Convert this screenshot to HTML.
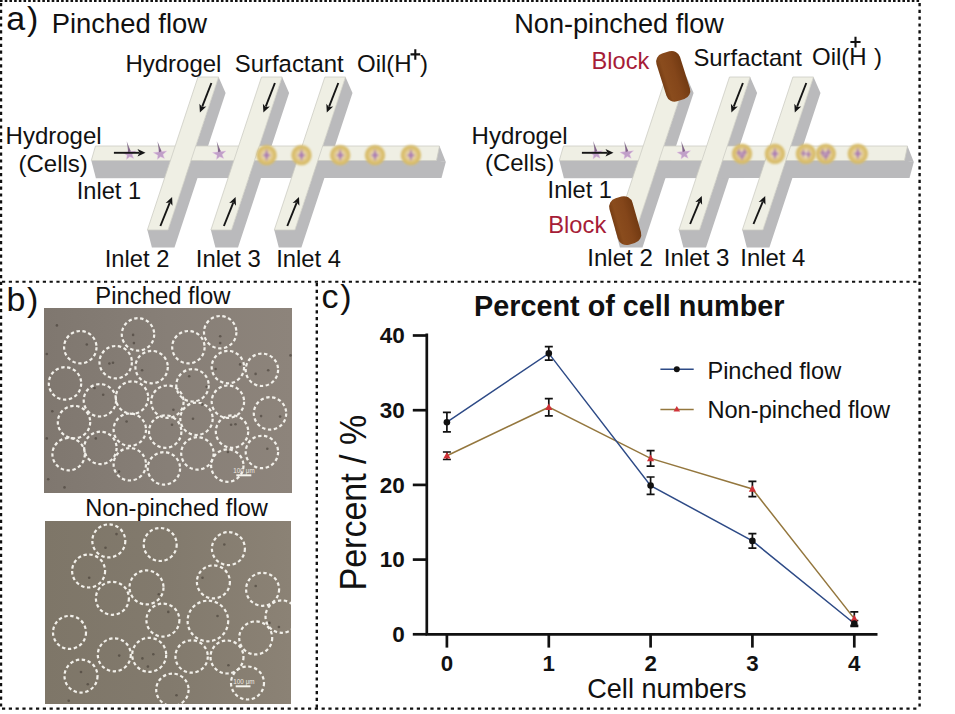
<!DOCTYPE html><html><head><meta charset="utf-8"><style>html,body{margin:0;padding:0;background:#fff;width:955px;height:714px;overflow:hidden}svg{display:block}</style></head><body><svg width="955" height="714" viewBox="0 0 955 714" font-family="'Liberation Sans', sans-serif">
<defs>
<radialGradient id="dg" cx="0.5" cy="0.5" r="0.5">
<stop offset="0" stop-color="#f0dedd"/>
<stop offset="0.3" stop-color="#ead9b4"/>
<stop offset="0.6" stop-color="#dfc57e"/>
<stop offset="0.88" stop-color="#d5b860"/>
<stop offset="1" stop-color="#dac27a" stop-opacity="0.55"/>
</radialGradient>
<filter id="soft" x="-20%" y="-20%" width="140%" height="140%"><feGaussianBlur stdDeviation="0.8"/></filter>
<linearGradient id="bg" x1="0" y1="0" x2="1" y2="0">
<stop offset="0" stop-color="#773e14"/>
<stop offset="0.2" stop-color="#8a4c1d"/>
<stop offset="0.6" stop-color="#84461a"/>
<stop offset="1" stop-color="#723a12"/>
</linearGradient>
<linearGradient id="im1" x1="0" y1="0" x2="1" y2="0">
<stop offset="0" stop-color="#7f776f"/><stop offset="0.5" stop-color="#877f77"/><stop offset="1" stop-color="#8d847b"/>
</linearGradient>
<linearGradient id="im2" x1="0" y1="0" x2="1" y2="0">
<stop offset="0" stop-color="#7e7668"/><stop offset="0.5" stop-color="#827a6d"/><stop offset="1" stop-color="#8b8275"/>
</linearGradient>
</defs>
<rect width="955" height="714" fill="#fff"/>
<line x1="0" y1="1" x2="920" y2="1" stroke="#111" fill="none" stroke-width="2.1" stroke-dasharray="2.6 2.1"/>
<line x1="1" y1="3" x2="1" y2="709" stroke="#111" fill="none" stroke-width="2.4" stroke-dasharray="3.2 3.6"/>
<line x1="919.6" y1="3" x2="919.6" y2="709" stroke="#111" fill="none" stroke-width="2.4" stroke-dasharray="3.2 3.6"/>
<line x1="2" y1="281.7" x2="920" y2="281.7" stroke="#111" fill="none" stroke-width="2.1" stroke-dasharray="3.2 3.6"/>
<line x1="316.8" y1="283" x2="316.8" y2="709" stroke="#111" fill="none" stroke-width="2.4" stroke-dasharray="3.2 3.6"/>
<line x1="2" y1="708.6" x2="920" y2="708.6" stroke="#111" fill="none" stroke-width="2.1" stroke-dasharray="3.2 3.6"/>
<text x="6.3" y="29.5" font-size="34" font-weight="400" fill="#111" text-anchor="start" >a</text>
<text x="27" y="29.5" font-size="34" font-weight="400" fill="#111" text-anchor="start" >)</text>
<text x="51.7" y="33.1" font-size="27.4" font-weight="400" fill="#111" text-anchor="start" >Pinched flow</text>
<polygon points="218.6,77.0 225.6,93.0 174.5,247.5 151.9,247.5 147.4,230.0 168.0,230.0" fill="#bababc" />
<polygon points="282.1,77.0 289.1,93.0 238.0,247.5 215.4,247.5 210.9,230.0 231.5,230.0" fill="#bababc" />
<polygon points="345.5,77.0 352.5,93.0 301.4,247.5 278.8,247.5 274.3,230.0 294.9,230.0" fill="#bababc" />
<polygon points="91.3,160.5 437.0,160.5 445.8,162.0 441.5,178.0 95.9,178.2" fill="#bababc" />
<polygon points="95.5,146.0 439.5,146.0 445.8,162.0 436.5,161.0" fill="#bababc" />
<polygon points="95.5,146.0 439.5,146.0 436.5,160.5 91.3,160.5" fill="#efefe4" stroke="#cdcdc4" stroke-width="0.8"/>
<polygon points="198.0,77.0 218.6,77.0 168.0,230.0 147.4,230.0" fill="#efefe4" stroke="#cdcdc4" stroke-width="0.8"/>
<polygon points="261.5,77.0 282.1,77.0 231.5,230.0 210.9,230.0" fill="#efefe4" stroke="#cdcdc4" stroke-width="0.8"/>
<polygon points="324.9,77.0 345.5,77.0 294.9,230.0 274.3,230.0" fill="#efefe4" stroke="#cdcdc4" stroke-width="0.8"/>
<polygon points="128.7,147.5 130.9,151.6 136.0,151.0 132.2,154.5 133.7,158.5 129.8,156.8 126.5,159.4 127.0,155.2 122.4,152.6 127.6,151.9" fill="#ad80bd" fill-opacity="0.72" stroke="#e8c8e8" stroke-opacity="0.5" stroke-width="0.8"/>
<path d="M126.7,141.3 L130.7,151.3 L128.3,152.3Z" fill="#6f5578" fill-opacity="0.8"/>
<polygon points="159.5,147.5 161.7,151.6 166.8,151.0 163.0,154.5 164.5,158.5 160.6,156.8 157.3,159.4 157.8,155.2 153.2,152.6 158.4,151.9" fill="#ad80bd" fill-opacity="0.72" stroke="#e8c8e8" stroke-opacity="0.5" stroke-width="0.8"/>
<path d="M157.5,141.3 L161.5,151.3 L159.1,152.3Z" fill="#6f5578" fill-opacity="0.8"/>
<polygon points="218.7,147.5 220.9,151.6 226.0,151.0 222.2,154.5 223.7,158.5 219.8,156.8 216.5,159.4 217.0,155.2 212.4,152.6 217.6,151.9" fill="#ad80bd" fill-opacity="0.72" stroke="#e8c8e8" stroke-opacity="0.5" stroke-width="0.8"/>
<path d="M216.7,141.3 L220.7,151.3 L218.3,152.3Z" fill="#6f5578" fill-opacity="0.8"/>
<g filter="url(#soft)">
<circle cx="266.6" cy="155.2" r="10.4" fill="url(#dg)"/>
<path d="M266.6,148.7 L268.2,153.7 L270.8,155.2 L268.2,156.7 L266.6,161.2 L265.0,156.7 L262.4,155.2 L265.0,153.7Z" fill="#9a64aa" fill-opacity="0.8"/>
</g>
<g filter="url(#soft)">
<circle cx="301.5" cy="155.2" r="10.4" fill="url(#dg)"/>
<path d="M301.5,148.7 L303.1,153.7 L305.7,155.2 L303.1,156.7 L301.5,161.2 L299.9,156.7 L297.3,155.2 L299.9,153.7Z" fill="#9a64aa" fill-opacity="0.8"/>
</g>
<g filter="url(#soft)">
<circle cx="340.2" cy="155.2" r="10.4" fill="url(#dg)"/>
<path d="M340.2,148.7 L341.8,153.7 L344.4,155.2 L341.8,156.7 L340.2,161.2 L338.6,156.7 L336.0,155.2 L338.6,153.7Z" fill="#9a64aa" fill-opacity="0.8"/>
</g>
<g filter="url(#soft)">
<circle cx="375" cy="155.2" r="10.4" fill="url(#dg)"/>
<path d="M375.0,148.7 L376.6,153.7 L379.2,155.2 L376.6,156.7 L375.0,161.2 L373.4,156.7 L370.8,155.2 L373.4,153.7Z" fill="#9a64aa" fill-opacity="0.8"/>
</g>
<g filter="url(#soft)">
<circle cx="410.9" cy="155.2" r="10.4" fill="url(#dg)"/>
<path d="M410.9,148.7 L412.5,153.7 L415.1,155.2 L412.5,156.7 L410.9,161.2 L409.3,156.7 L406.7,155.2 L409.3,153.7Z" fill="#9a64aa" fill-opacity="0.8"/>
</g>
<line x1="113.9" y1="152.8" x2="139.3" y2="152.8" stroke="#151515" stroke-width="1.9"/>
<polygon points="145.5,152.8 137.5,156.5 139.5,152.8 137.5,149.1" fill="#151515" />
<line x1="211.4" y1="83.0" x2="202.2" y2="106.7" stroke="#151515" stroke-width="1.9"/>
<polygon points="199.9,112.5 199.4,103.7 202.1,106.9 206.3,106.4" fill="#151515" />
<line x1="160.4" y1="226.0" x2="169.8" y2="202.7" stroke="#151515" stroke-width="1.9"/>
<polygon points="172.1,197.0 172.5,205.8 169.9,202.6 165.7,203.0" fill="#151515" />
<line x1="274.9" y1="83.0" x2="265.7" y2="106.7" stroke="#151515" stroke-width="1.9"/>
<polygon points="263.4,112.5 262.9,103.7 265.6,106.9 269.8,106.4" fill="#151515" />
<line x1="223.9" y1="226.0" x2="233.3" y2="202.7" stroke="#151515" stroke-width="1.9"/>
<polygon points="235.6,197.0 236.0,205.8 233.4,202.6 229.2,203.0" fill="#151515" />
<line x1="338.3" y1="83.0" x2="329.1" y2="106.7" stroke="#151515" stroke-width="1.9"/>
<polygon points="326.8,112.5 326.3,103.7 329.0,106.9 333.2,106.4" fill="#151515" />
<line x1="287.3" y1="226.0" x2="296.7" y2="202.7" stroke="#151515" stroke-width="1.9"/>
<polygon points="299.0,197.0 299.4,205.8 296.8,202.6 292.6,203.0" fill="#151515" />
<text x="125.4" y="72.1" font-size="24" font-weight="400" fill="#111" text-anchor="start" >Hydrogel</text>
<text x="234.8" y="72.1" font-size="23.9" font-weight="400" fill="#111" text-anchor="start" >Surfactant</text>
<text x="357" y="72" font-size="24" font-weight="400" fill="#111" text-anchor="start" >Oil(H</text>
<path d="M410.5,54.4 H420.2 M415.3,49.2 V59.8" stroke="#111" stroke-width="2.1"/>
<text x="420" y="72" font-size="24" font-weight="400" fill="#111" text-anchor="start" >)</text>
<text x="5.6" y="143.5" font-size="24" font-weight="400" fill="#111" text-anchor="start" >Hydrogel</text>
<text x="18.5" y="171.5" font-size="24" font-weight="400" fill="#111" text-anchor="start" >(Cells)</text>
<text x="76.8" y="198.5" font-size="23.6" font-weight="400" fill="#111" text-anchor="start" >Inlet 1</text>
<text x="104.7" y="266.9" font-size="23.8" font-weight="400" fill="#111" text-anchor="start" >Inlet 2</text>
<text x="195.8" y="266.9" font-size="23.9" font-weight="400" fill="#111" text-anchor="start" >Inlet 3</text>
<text x="276.2" y="266.9" font-size="23.8" font-weight="400" fill="#111" text-anchor="start" >Inlet 4</text>
<text x="514.2" y="32.8" font-size="27.15" font-weight="400" fill="#111" text-anchor="start" >Non-pinched flow</text>
<polygon points="686.6,77.0 693.6,93.0 642.5,247.5 619.9,247.5 615.4,230.0 636.0,230.0" fill="#bababc" />
<polygon points="750.1,77.0 757.1,93.0 706.0,247.5 683.4,247.5 678.9,230.0 699.5,230.0" fill="#bababc" />
<polygon points="813.5,77.0 820.5,93.0 769.4,247.5 746.8,247.5 742.3,230.0 762.9,230.0" fill="#bababc" />
<polygon points="559.3,160.5 905.0,160.5 913.8,162.0 909.5,178.0 563.9,178.2" fill="#bababc" />
<polygon points="563.5,146.0 907.5,146.0 913.8,162.0 904.5,161.0" fill="#bababc" />
<polygon points="563.5,146.0 907.5,146.0 904.5,160.5 559.3,160.5" fill="#efefe4" stroke="#cdcdc4" stroke-width="0.8"/>
<polygon points="666.0,77.0 686.6,77.0 636.0,230.0 615.4,230.0" fill="#efefe4" stroke="#cdcdc4" stroke-width="0.8"/>
<polygon points="729.5,77.0 750.1,77.0 699.5,230.0 678.9,230.0" fill="#efefe4" stroke="#cdcdc4" stroke-width="0.8"/>
<polygon points="792.9,77.0 813.5,77.0 762.9,230.0 742.3,230.0" fill="#efefe4" stroke="#cdcdc4" stroke-width="0.8"/>
<polygon points="595.2,147.2 597.4,151.3 602.5,150.7 598.7,154.2 600.2,158.2 596.3,156.5 593.0,159.1 593.5,154.9 588.9,152.3 594.1,151.6" fill="#ad80bd" fill-opacity="0.72" stroke="#e8c8e8" stroke-opacity="0.5" stroke-width="0.8"/>
<path d="M593.2,141.0 L597.2,151.0 L594.8,152.0Z" fill="#6f5578" fill-opacity="0.8"/>
<polygon points="626.2,147.2 628.4,151.3 633.5,150.7 629.7,154.2 631.2,158.2 627.3,156.5 624.0,159.1 624.5,154.9 619.9,152.3 625.1,151.6" fill="#ad80bd" fill-opacity="0.72" stroke="#e8c8e8" stroke-opacity="0.5" stroke-width="0.8"/>
<path d="M624.2,141.0 L628.2,151.0 L625.8,152.0Z" fill="#6f5578" fill-opacity="0.8"/>
<polygon points="683.2,147.2 685.4,151.3 690.5,150.7 686.7,154.2 688.2,158.2 684.3,156.5 681.0,159.1 681.5,154.9 676.9,152.3 682.1,151.6" fill="#ad80bd" fill-opacity="0.72" stroke="#e8c8e8" stroke-opacity="0.5" stroke-width="0.8"/>
<path d="M681.2,141.0 L685.2,151.0 L682.8,152.0Z" fill="#6f5578" fill-opacity="0.8"/>
<g filter="url(#soft)">
<circle cx="742" cy="153.8" r="10.4" fill="url(#dg)"/>
<path d="M739.0,147.9 L740.2,151.7 L742.1,152.8 L740.2,153.9 L739.0,157.3 L737.8,153.9 L735.9,152.8 L737.8,151.7Z" fill="#9a64aa" fill-opacity="0.8"/>
<path d="M744.5,147.4 L745.7,151.2 L747.6,152.3 L745.7,153.4 L744.5,156.8 L743.3,153.4 L741.4,152.3 L743.3,151.2Z" fill="#9a64aa" fill-opacity="0.8"/>
<path d="M742.0,151.4 L743.2,155.2 L745.1,156.3 L743.2,157.4 L742.0,160.8 L740.8,157.4 L738.9,156.3 L740.8,155.2Z" fill="#9a64aa" fill-opacity="0.8"/>
</g>
<g filter="url(#soft)">
<circle cx="774.9" cy="153.8" r="10.4" fill="url(#dg)"/>
<path d="M774.9,147.3 L776.5,152.3 L779.1,153.8 L776.5,155.3 L774.9,159.8 L773.3,155.3 L770.7,153.8 L773.3,152.3Z" fill="#9a64aa" fill-opacity="0.8"/>
</g>
<g filter="url(#soft)">
<circle cx="805.9" cy="153.8" r="10.4" fill="url(#dg)"/>
<path d="M803.4,148.4 L804.6,152.2 L806.5,153.3 L804.6,154.4 L803.4,157.8 L802.2,154.4 L800.2,153.3 L802.2,152.2Z" fill="#9a64aa" fill-opacity="0.8"/>
<path d="M808.4,149.4 L809.6,153.2 L811.5,154.3 L809.6,155.4 L808.4,158.8 L807.2,155.4 L805.2,154.3 L807.2,153.2Z" fill="#9a64aa" fill-opacity="0.8"/>
</g>
<g filter="url(#soft)">
<circle cx="825.8" cy="153.8" r="10.4" fill="url(#dg)"/>
<path d="M822.8,147.9 L824.0,151.7 L825.9,152.8 L824.0,153.9 L822.8,157.3 L821.6,153.9 L819.6,152.8 L821.6,151.7Z" fill="#9a64aa" fill-opacity="0.8"/>
<path d="M828.3,147.4 L829.5,151.2 L831.4,152.3 L829.5,153.4 L828.3,156.8 L827.1,153.4 L825.1,152.3 L827.1,151.2Z" fill="#9a64aa" fill-opacity="0.8"/>
<path d="M825.8,151.4 L827.0,155.2 L828.9,156.3 L827.0,157.4 L825.8,160.8 L824.6,157.4 L822.6,156.3 L824.6,155.2Z" fill="#9a64aa" fill-opacity="0.8"/>
</g>
<g filter="url(#soft)">
<circle cx="857.8" cy="153.8" r="10.4" fill="url(#dg)"/>
<path d="M857.8,147.3 L859.4,152.3 L862.0,153.8 L859.4,155.3 L857.8,159.8 L856.2,155.3 L853.6,153.8 L856.2,152.3Z" fill="#9a64aa" fill-opacity="0.8"/>
</g>
<line x1="581.9" y1="152.8" x2="607.3" y2="152.8" stroke="#151515" stroke-width="1.9"/>
<polygon points="613.5,152.8 605.5,156.5 607.5,152.8 605.5,149.1" fill="#151515" />
<line x1="742.9" y1="83.0" x2="733.7" y2="106.7" stroke="#151515" stroke-width="1.9"/>
<polygon points="731.4,112.5 730.9,103.7 733.6,106.9 737.8,106.4" fill="#151515" />
<line x1="690.1" y1="224.0" x2="699.4" y2="201.7" stroke="#151515" stroke-width="1.9"/>
<polygon points="701.8,196.0 702.1,204.8 699.5,201.5 695.3,202.0" fill="#151515" />
<line x1="806.3" y1="83.0" x2="797.1" y2="106.7" stroke="#151515" stroke-width="1.9"/>
<polygon points="794.8,112.5 794.3,103.7 797.0,106.9 801.2,106.4" fill="#151515" />
<line x1="753.5" y1="224.0" x2="762.8" y2="201.7" stroke="#151515" stroke-width="1.9"/>
<polygon points="765.2,196.0 765.5,204.8 762.9,201.5 758.7,202.0" fill="#151515" />
<g transform="translate(673.2,76.3) rotate(-17.5)"><rect x="-12.3" y="-25" width="24.6" height="50" rx="8.5" fill="url(#bg)"/></g>
<g transform="translate(625.2,220.6) rotate(-16)"><rect x="-12" y="-24.2" width="24" height="48.4" rx="9" fill="url(#bg)"/></g>
<text x="591.6" y="69.1" font-size="23.6" font-weight="400" fill="#a61c37" text-anchor="start" >Block</text>
<text x="693.5" y="66.4" font-size="23.8" font-weight="400" fill="#111" text-anchor="start" >Surfactant</text>
<text x="812" y="64.5" font-size="24" font-weight="400" fill="#111" text-anchor="start" >Oil(H</text>
<path d="M850.4,42 H860.6 M855.5,36.8 V47.4" stroke="#111" stroke-width="2.1"/>
<text x="874" y="64.5" font-size="24" font-weight="400" fill="#111" text-anchor="start" >)</text>
<text x="471.6" y="144.1" font-size="24" font-weight="400" fill="#111" text-anchor="start" >Hydrogel</text>
<text x="484.9" y="170.5" font-size="24" font-weight="400" fill="#111" text-anchor="start" >(Cells)</text>
<text x="547.6" y="198" font-size="23.6" font-weight="400" fill="#111" text-anchor="start" >Inlet 1</text>
<text x="548.3" y="232.8" font-size="23.7" font-weight="400" fill="#a61c37" text-anchor="start" >Block</text>
<text x="587.2" y="265.5" font-size="24.1" font-weight="400" fill="#111" text-anchor="start" >Inlet 2</text>
<text x="663.8" y="265.5" font-size="24.1" font-weight="400" fill="#111" text-anchor="start" >Inlet 3</text>
<text x="740.3" y="265.5" font-size="23.9" font-weight="400" fill="#111" text-anchor="start" >Inlet 4</text>
<text x="6.5" y="310.8" font-size="34" font-weight="400" fill="#111" text-anchor="start" >b</text>
<text x="27.1" y="310.8" font-size="34" font-weight="400" fill="#111" text-anchor="start" >)</text>
<text x="95.3" y="304.3" font-size="23.85" font-weight="400" fill="#111" text-anchor="start" >Pinched flow</text>
<rect x="44" y="308" width="248" height="185" fill="url(#im1)"/>
<circle cx="80.3" cy="347.2" r="16.2" fill="none" stroke="#f2f0ea" stroke-width="2.2" stroke-dasharray="3.4 2.6"/>
<circle cx="138" cy="334.4" r="16.2" fill="none" stroke="#f2f0ea" stroke-width="2.2" stroke-dasharray="3.4 2.6"/>
<circle cx="188.4" cy="347.2" r="16.2" fill="none" stroke="#f2f0ea" stroke-width="2.2" stroke-dasharray="3.4 2.6"/>
<circle cx="220.2" cy="332.2" r="16.2" fill="none" stroke="#f2f0ea" stroke-width="2.2" stroke-dasharray="3.4 2.6"/>
<circle cx="115.7" cy="362.2" r="16.2" fill="none" stroke="#f2f0ea" stroke-width="2.2" stroke-dasharray="3.4 2.6"/>
<circle cx="151.6" cy="367.1" r="16.2" fill="none" stroke="#f2f0ea" stroke-width="2.2" stroke-dasharray="3.4 2.6"/>
<circle cx="227.9" cy="367.1" r="16.2" fill="none" stroke="#f2f0ea" stroke-width="2.2" stroke-dasharray="3.4 2.6"/>
<circle cx="261.9" cy="369.8" r="16.2" fill="none" stroke="#f2f0ea" stroke-width="2.2" stroke-dasharray="3.4 2.6"/>
<circle cx="65" cy="383.4" r="16.2" fill="none" stroke="#f2f0ea" stroke-width="2.2" stroke-dasharray="3.4 2.6"/>
<circle cx="99.9" cy="400.3" r="16.2" fill="none" stroke="#f2f0ea" stroke-width="2.2" stroke-dasharray="3.4 2.6"/>
<circle cx="132" cy="397.6" r="16.2" fill="none" stroke="#f2f0ea" stroke-width="2.2" stroke-dasharray="3.4 2.6"/>
<circle cx="167.4" cy="401.7" r="16.2" fill="none" stroke="#f2f0ea" stroke-width="2.2" stroke-dasharray="3.4 2.6"/>
<circle cx="192.5" cy="385.3" r="16.2" fill="none" stroke="#f2f0ea" stroke-width="2.2" stroke-dasharray="3.4 2.6"/>
<circle cx="227.9" cy="401.7" r="16.2" fill="none" stroke="#f2f0ea" stroke-width="2.2" stroke-dasharray="3.4 2.6"/>
<circle cx="270" cy="413.4" r="16.2" fill="none" stroke="#f2f0ea" stroke-width="2.2" stroke-dasharray="3.4 2.6"/>
<circle cx="74" cy="422.1" r="16.2" fill="none" stroke="#f2f0ea" stroke-width="2.2" stroke-dasharray="3.4 2.6"/>
<circle cx="129.8" cy="429.7" r="16.2" fill="none" stroke="#f2f0ea" stroke-width="2.2" stroke-dasharray="3.4 2.6"/>
<circle cx="165.2" cy="431.6" r="16.2" fill="none" stroke="#f2f0ea" stroke-width="2.2" stroke-dasharray="3.4 2.6"/>
<circle cx="196.5" cy="418.8" r="16.2" fill="none" stroke="#f2f0ea" stroke-width="2.2" stroke-dasharray="3.4 2.6"/>
<circle cx="232" cy="431.6" r="16.2" fill="none" stroke="#f2f0ea" stroke-width="2.2" stroke-dasharray="3.4 2.6"/>
<circle cx="68.6" cy="454.2" r="16.2" fill="none" stroke="#f2f0ea" stroke-width="2.2" stroke-dasharray="3.4 2.6"/>
<circle cx="100.4" cy="447.9" r="16.2" fill="none" stroke="#f2f0ea" stroke-width="2.2" stroke-dasharray="3.4 2.6"/>
<circle cx="129.8" cy="464.3" r="16.2" fill="none" stroke="#f2f0ea" stroke-width="2.2" stroke-dasharray="3.4 2.6"/>
<circle cx="163.9" cy="468.4" r="16.2" fill="none" stroke="#f2f0ea" stroke-width="2.2" stroke-dasharray="3.4 2.6"/>
<circle cx="197.4" cy="453.4" r="16.2" fill="none" stroke="#f2f0ea" stroke-width="2.2" stroke-dasharray="3.4 2.6"/>
<circle cx="261.9" cy="452" r="16.2" fill="none" stroke="#f2f0ea" stroke-width="2.2" stroke-dasharray="3.4 2.6"/>
<circle cx="227.3" cy="465.6" r="16.2" fill="none" stroke="#f2f0ea" stroke-width="2.2" stroke-dasharray="3.4 2.6"/>
<circle cx="56.9" cy="325.4" r="1.3" fill="#3e362f" fill-opacity="0.55"/>
<circle cx="46.8" cy="354.0" r="1.3" fill="#3e362f" fill-opacity="0.55"/>
<circle cx="86.8" cy="344.5" r="1.3" fill="#3e362f" fill-opacity="0.55"/>
<circle cx="133.1" cy="334.9" r="1.3" fill="#3e362f" fill-opacity="0.55"/>
<circle cx="133.9" cy="343.1" r="1.3" fill="#3e362f" fill-opacity="0.55"/>
<circle cx="109.4" cy="363.5" r="1.3" fill="#3e362f" fill-opacity="0.55"/>
<circle cx="113.0" cy="362.7" r="1.3" fill="#3e362f" fill-opacity="0.55"/>
<circle cx="142.1" cy="370.3" r="1.3" fill="#3e362f" fill-opacity="0.55"/>
<circle cx="94.5" cy="388.0" r="1.3" fill="#3e362f" fill-opacity="0.55"/>
<circle cx="103.2" cy="394.8" r="1.3" fill="#3e362f" fill-opacity="0.55"/>
<circle cx="206.6" cy="386.7" r="1.3" fill="#3e362f" fill-opacity="0.55"/>
<circle cx="189.2" cy="376.3" r="1.3" fill="#3e362f" fill-opacity="0.55"/>
<circle cx="220.2" cy="336.3" r="1.3" fill="#3e362f" fill-opacity="0.55"/>
<circle cx="220.2" cy="343.1" r="1.3" fill="#3e362f" fill-opacity="0.55"/>
<circle cx="240.1" cy="364.4" r="1.3" fill="#3e362f" fill-opacity="0.55"/>
<circle cx="268.2" cy="370.3" r="1.3" fill="#3e362f" fill-opacity="0.55"/>
<circle cx="255.6" cy="373.9" r="1.3" fill="#3e362f" fill-opacity="0.55"/>
<circle cx="290.5" cy="355.4" r="1.3" fill="#3e362f" fill-opacity="0.55"/>
<circle cx="52.3" cy="411.2" r="1.3" fill="#3e362f" fill-opacity="0.55"/>
<circle cx="126.6" cy="421.5" r="1.3" fill="#3e362f" fill-opacity="0.55"/>
<circle cx="173.4" cy="409.8" r="1.3" fill="#3e362f" fill-opacity="0.55"/>
<circle cx="172.0" cy="424.8" r="1.3" fill="#3e362f" fill-opacity="0.55"/>
<circle cx="193.0" cy="418.8" r="1.3" fill="#3e362f" fill-opacity="0.55"/>
<circle cx="231.1" cy="424.8" r="1.3" fill="#3e362f" fill-opacity="0.55"/>
<circle cx="235.5" cy="424.2" r="1.3" fill="#3e362f" fill-opacity="0.55"/>
<circle cx="267.3" cy="448.8" r="1.3" fill="#3e362f" fill-opacity="0.55"/>
<circle cx="46.8" cy="438.4" r="1.3" fill="#3e362f" fill-opacity="0.55"/>
<circle cx="95.8" cy="438.4" r="1.3" fill="#3e362f" fill-opacity="0.55"/>
<circle cx="119.0" cy="471.6" r="1.3" fill="#3e362f" fill-opacity="0.55"/>
<circle cx="48.2" cy="479.2" r="1.3" fill="#3e362f" fill-opacity="0.55"/>
<circle cx="64.5" cy="487.4" r="1.3" fill="#3e362f" fill-opacity="0.55"/>
<circle cx="227.9" cy="452.0" r="1.3" fill="#3e362f" fill-opacity="0.55"/>
<circle cx="261.1" cy="416.1" r="1.3" fill="#3e362f" fill-opacity="0.55"/>
<circle cx="202.0" cy="404.4" r="1.3" fill="#3e362f" fill-opacity="0.55"/>
<circle cx="215.6" cy="369.0" r="1.3" fill="#3e362f" fill-opacity="0.55"/>
<circle cx="280.1" cy="416.6" r="1.3" fill="#3e362f" fill-opacity="0.55"/>
<rect x="236.3" y="474.3" width="15" height="2" fill="#f6f4ee"/>
<text x="233.2" y="473" font-size="6.3" fill="#eeeae2" textLength="21.5">100 μm</text>
<text x="85.2" y="516.3" font-size="23.65" font-weight="400" fill="#111" text-anchor="start" >Non-pinched flow</text>
<svg x="45" y="521" width="246" height="183"><rect width="246" height="183" fill="url(#im2)"/>
<circle cx="63.8" cy="19.899999999999977" r="16.5" fill="none" stroke="#f2f0ea" stroke-width="2.2" stroke-dasharray="3.4 2.6"/>
<circle cx="115.19999999999999" cy="23.5" r="16.5" fill="none" stroke="#f2f0ea" stroke-width="2.2" stroke-dasharray="3.4 2.6"/>
<circle cx="183.4" cy="27.600000000000023" r="16.5" fill="none" stroke="#f2f0ea" stroke-width="2.2" stroke-dasharray="3.4 2.6"/>
<circle cx="43.599999999999994" cy="50" r="16.5" fill="none" stroke="#f2f0ea" stroke-width="2.2" stroke-dasharray="3.4 2.6"/>
<circle cx="168.4" cy="60.89999999999998" r="16.5" fill="none" stroke="#f2f0ea" stroke-width="2.2" stroke-dasharray="3.4 2.6"/>
<circle cx="217.60000000000002" cy="68.29999999999995" r="16.5" fill="none" stroke="#f2f0ea" stroke-width="2.2" stroke-dasharray="3.4 2.6"/>
<circle cx="101.5" cy="66.39999999999998" r="17" fill="none" stroke="#f2f0ea" stroke-width="2.2" stroke-dasharray="3.4 2.6"/>
<circle cx="67.4" cy="77.29999999999995" r="16.5" fill="none" stroke="#f2f0ea" stroke-width="2.2" stroke-dasharray="3.4 2.6"/>
<circle cx="117.9" cy="99.10000000000002" r="16.5" fill="none" stroke="#f2f0ea" stroke-width="2.2" stroke-dasharray="3.4 2.6"/>
<circle cx="162.9" cy="100" r="20.3" fill="none" stroke="#f2f0ea" stroke-width="2.2" stroke-dasharray="3.4 2.6"/>
<circle cx="236.7" cy="95.60000000000002" r="16.2" fill="none" stroke="#f2f0ea" stroke-width="2.2" stroke-dasharray="3.4 2.6"/>
<circle cx="24.5" cy="111.39999999999998" r="16.5" fill="none" stroke="#f2f0ea" stroke-width="2.2" stroke-dasharray="3.4 2.6"/>
<circle cx="210.7" cy="116.89999999999998" r="16.5" fill="none" stroke="#f2f0ea" stroke-width="2.2" stroke-dasharray="3.4 2.6"/>
<circle cx="69.3" cy="133.79999999999995" r="16.5" fill="none" stroke="#f2f0ea" stroke-width="2.2" stroke-dasharray="3.4 2.6"/>
<circle cx="104.19999999999999" cy="133.79999999999995" r="17" fill="none" stroke="#f2f0ea" stroke-width="2.2" stroke-dasharray="3.4 2.6"/>
<circle cx="146.6" cy="135.5" r="16.2" fill="none" stroke="#f2f0ea" stroke-width="2.2" stroke-dasharray="3.4 2.6"/>
<circle cx="182" cy="136" r="16.5" fill="none" stroke="#f2f0ea" stroke-width="2.2" stroke-dasharray="3.4 2.6"/>
<circle cx="36" cy="155.10000000000002" r="16.5" fill="none" stroke="#f2f0ea" stroke-width="2.2" stroke-dasharray="3.4 2.6"/>
<circle cx="127.4" cy="168.79999999999995" r="16.2" fill="none" stroke="#f2f0ea" stroke-width="2.2" stroke-dasharray="3.4 2.6"/>
<circle cx="202.5" cy="162" r="16.5" fill="none" stroke="#f2f0ea" stroke-width="2.2" stroke-dasharray="3.4 2.6"/>
</svg>
<circle cx="116.5" cy="534.1" r="1.3" fill="#3e362f" fill-opacity="0.55"/>
<circle cx="105.5" cy="547.8" r="1.3" fill="#3e362f" fill-opacity="0.55"/>
<circle cx="89.2" cy="577.8" r="1.3" fill="#3e362f" fill-opacity="0.55"/>
<circle cx="168.3" cy="611.9" r="1.3" fill="#3e362f" fill-opacity="0.55"/>
<circle cx="158.8" cy="594.2" r="1.3" fill="#3e362f" fill-opacity="0.55"/>
<circle cx="119.2" cy="655.6" r="1.3" fill="#3e362f" fill-opacity="0.55"/>
<circle cx="142.4" cy="658.4" r="1.3" fill="#3e362f" fill-opacity="0.55"/>
<circle cx="153.3" cy="654.3" r="1.3" fill="#3e362f" fill-opacity="0.55"/>
<circle cx="147.9" cy="666.6" r="1.3" fill="#3e362f" fill-opacity="0.55"/>
<circle cx="81.0" cy="672.0" r="1.3" fill="#3e362f" fill-opacity="0.55"/>
<circle cx="87.8" cy="684.3" r="1.3" fill="#3e362f" fill-opacity="0.55"/>
<circle cx="176.5" cy="695.2" r="1.3" fill="#3e362f" fill-opacity="0.55"/>
<circle cx="217.5" cy="616.0" r="1.3" fill="#3e362f" fill-opacity="0.55"/>
<circle cx="202.5" cy="577.8" r="1.3" fill="#3e362f" fill-opacity="0.55"/>
<circle cx="224.3" cy="544.5" r="1.3" fill="#3e362f" fill-opacity="0.55"/>
<circle cx="255.7" cy="586.0" r="1.3" fill="#3e362f" fill-opacity="0.55"/>
<circle cx="278.9" cy="627.0" r="1.3" fill="#3e362f" fill-opacity="0.55"/>
<circle cx="269.4" cy="622.9" r="1.3" fill="#3e362f" fill-opacity="0.55"/>
<circle cx="228.4" cy="665.2" r="1.3" fill="#3e362f" fill-opacity="0.55"/>
<circle cx="68.7" cy="700.7" r="1.3" fill="#3e362f" fill-opacity="0.55"/>
<rect x="235.7" y="685.3" width="14.8" height="2" fill="#f6f4ee"/>
<text x="233.2" y="684" font-size="6.3" fill="#eeeae2" textLength="21.4">100 μm</text>
<text x="321.5" y="307.5" font-size="34" font-weight="400" fill="#111" text-anchor="start" >c</text>
<text x="340.3" y="307.5" font-size="34" font-weight="400" fill="#111" text-anchor="start" >)</text>
<text x="474" y="315.6" font-size="28.8" font-weight="700" fill="#111" text-anchor="start" >Percent of cell number</text>
<path d="M426.8,333.5 V635.5999999999999 M425.5,634.3 H877.5" stroke="#111" stroke-width="2.7" fill="none"/>
<line x1="412.8" y1="634.3" x2="426.8" y2="634.3" stroke="#111" stroke-width="2.7"/>
<text x="404.8" y="641.9" font-size="22.5" font-weight="700" fill="#111" text-anchor="end" >0</text>
<line x1="412.8" y1="559.6" x2="426.8" y2="559.6" stroke="#111" stroke-width="2.7"/>
<text x="404.8" y="567.2" font-size="22.5" font-weight="700" fill="#111" text-anchor="end" >10</text>
<line x1="412.8" y1="484.9" x2="426.8" y2="484.9" stroke="#111" stroke-width="2.7"/>
<text x="404.8" y="492.5" font-size="22.5" font-weight="700" fill="#111" text-anchor="end" >20</text>
<line x1="412.8" y1="410.2" x2="426.8" y2="410.2" stroke="#111" stroke-width="2.7"/>
<text x="404.8" y="417.8" font-size="22.5" font-weight="700" fill="#111" text-anchor="end" >30</text>
<line x1="412.8" y1="335.5" x2="426.8" y2="335.5" stroke="#111" stroke-width="2.7"/>
<text x="404.8" y="343.1" font-size="22.5" font-weight="700" fill="#111" text-anchor="end" >40</text>
<line x1="446.9" y1="634.3" x2="446.9" y2="647.6" stroke="#111" stroke-width="2.7"/>
<text x="446.9" y="671.2" font-size="22.3" font-weight="700" fill="#111" text-anchor="middle" >0</text>
<line x1="548.8" y1="634.3" x2="548.8" y2="647.6" stroke="#111" stroke-width="2.7"/>
<text x="548.8" y="671.2" font-size="22.3" font-weight="700" fill="#111" text-anchor="middle" >1</text>
<line x1="650.6" y1="634.3" x2="650.6" y2="647.6" stroke="#111" stroke-width="2.7"/>
<text x="650.6" y="671.2" font-size="22.3" font-weight="700" fill="#111" text-anchor="middle" >2</text>
<line x1="752.4" y1="634.3" x2="752.4" y2="647.6" stroke="#111" stroke-width="2.7"/>
<text x="752.4" y="671.2" font-size="22.3" font-weight="700" fill="#111" text-anchor="middle" >3</text>
<line x1="854.3" y1="634.3" x2="854.3" y2="647.6" stroke="#111" stroke-width="2.7"/>
<text x="854.3" y="671.2" font-size="22.3" font-weight="700" fill="#111" text-anchor="middle" >4</text>
<text x="587.3" y="697.8" font-size="27.05" font-weight="400" fill="#111" text-anchor="start" >Cell numbers</text>
<text transform="translate(365.6,590.5) rotate(-90) scale(1,1.08)" font-size="34" fill="#111">Percent / %</text>
<polyline points="446.9,455.8 548.8,407.2 650.6,458.4 752.4,489.0 854.3,618.6" fill="none" stroke="#94773e" stroke-width="1.5"/>
<polyline points="446.9,422.2 548.8,353.4 650.6,485.6 752.4,540.9 854.3,623.5" fill="none" stroke="#2d4a86" stroke-width="1.5"/>
<path d="M446.9,412.4 V431.9 M442.9,412.4 H450.9 M442.9,431.9 H450.9" stroke="#111" stroke-width="1.7" fill="none"/>
<path d="M548.8,346.7 V360.2 M544.8,346.7 H552.8 M544.8,360.2 H552.8" stroke="#111" stroke-width="1.7" fill="none"/>
<path d="M650.6,477.0 V494.3 M646.6,477.0 H654.6 M646.6,494.3 H654.6" stroke="#111" stroke-width="1.7" fill="none"/>
<path d="M752.4,533.7 V548.2 M748.4,533.7 H756.4 M748.4,548.2 H756.4" stroke="#111" stroke-width="1.7" fill="none"/>
<path d="M854.3,620.5 V626.5 M850.3,620.5 H858.3 M850.3,626.5 H858.3" stroke="#111" stroke-width="1.7" fill="none"/>
<path d="M446.9,452.0 V459.5 M442.9,452.0 H450.9 M442.9,459.5 H450.9" stroke="#111" stroke-width="1.7" fill="none"/>
<path d="M548.8,398.6 V415.8 M544.8,398.6 H552.8 M544.8,415.8 H552.8" stroke="#111" stroke-width="1.7" fill="none"/>
<path d="M650.6,450.7 V466.1 M646.6,450.7 H654.6 M646.6,466.1 H654.6" stroke="#111" stroke-width="1.7" fill="none"/>
<path d="M752.4,481.3 V496.7 M748.4,481.3 H756.4 M748.4,496.7 H756.4" stroke="#111" stroke-width="1.7" fill="none"/>
<path d="M854.3,611.8 V625.4 M850.3,611.8 H858.3 M850.3,625.4 H858.3" stroke="#111" stroke-width="1.7" fill="none"/>
<polygon points="446.9,452.0 443.3,458.6 450.5,458.6" fill="#cf3036" />
<polygon points="548.8,403.4 545.1,410.0 552.4,410.0" fill="#cf3036" />
<polygon points="650.6,454.6 647.0,461.2 654.2,461.2" fill="#cf3036" />
<polygon points="752.4,485.2 748.8,491.8 756.0,491.8" fill="#cf3036" />
<polygon points="854.3,614.8 850.7,621.4 857.9,621.4" fill="#cf3036" />
<circle cx="446.9" cy="422.2" r="3.3" fill="#111"/>
<circle cx="548.8" cy="353.4" r="3.3" fill="#111"/>
<circle cx="650.6" cy="485.6" r="3.3" fill="#111"/>
<circle cx="752.4" cy="540.9" r="3.3" fill="#111"/>
<circle cx="854.3" cy="623.5" r="3.3" fill="#111"/>
<line x1="660.4" y1="369.2" x2="693.7" y2="369.2" stroke="#2d4a86" stroke-width="1.5"/>
<circle cx="676.8" cy="369.2" r="3" fill="#111"/>
<line x1="660.4" y1="409.4" x2="693.7" y2="409.4" stroke="#94773e" stroke-width="1.5"/>
<polygon points="676.8,406.0 673.5,411.5 680.1,411.5" fill="#d0343a" />
<text x="707.4" y="379" font-size="23.6" font-weight="400" fill="#111" text-anchor="start" >Pinched flow</text>
<text x="707.4" y="418.4" font-size="23.65" font-weight="400" fill="#111" text-anchor="start" >Non-pinched flow</text>
</svg></body></html>
